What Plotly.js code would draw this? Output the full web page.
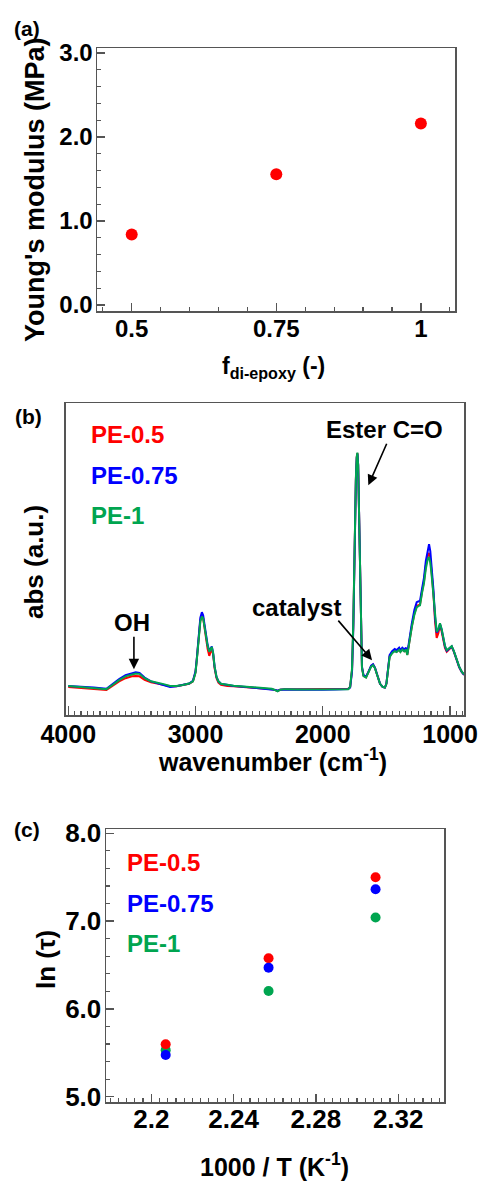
<!DOCTYPE html>
<html><head><meta charset="utf-8">
<script src="https://cdn.plot.ly/plotly-3.0.1.min.js"></script>
<style>html,body{margin:0;padding:0;background:#fff}</style>
</head><body><div id="chart" style="width:479px;height:1181px"></div>
<script>
// ---------- data ----------
const fracDiEpoxy = [0.5, 0.75, 1];
const youngsModulus = [0.84, 1.556, 2.16];

const wavenumber = [4000,3900,3800,3700,3650,3600,3550,3500,3470,3440,
3400,3350,3300,3250,3200,3150,3100,3050,3020,3000,
2990,2975,2962,2950,2940,2930,2918,2905,2892,2880,
2872,2862,2850,2835,2820,2800,2750,2700,2600,2500,
2400,2370,2355,2335,2300,2200,2100,2000,1900,1850,
1800,1785,1770,1760,1750,1740,1733,1728,1722,1715,
1708,1700,1692,1680,1660,1640,1620,1605,1590,1570,
1550,1530,1512,1500,1490,1475,1455,1435,1420,1400,
1390,1375,1360,1346,1336,1320,1300,1280,1262,1250,
1236,1220,1205,1190,1175,1165,1155,1145,1131,1118,
1105,1092,1079,1066,1053,1040,1026,1010,995,987,
970,948,928,908,890];

const absPE1 = [0.093,0.090,0.087,0.083,0.097,0.112,0.124,0.131,0.133,0.132,
0.118,0.108,0.104,0.099,0.093,0.093,0.096,0.101,0.108,0.135,
0.175,0.255,0.300,0.316,0.310,0.285,0.250,0.222,0.203,0.210,
0.218,0.200,0.155,0.122,0.108,0.100,0.096,0.094,0.091,0.087,
0.084,0.079,0.076,0.081,0.083,0.082,0.082,0.082,0.082,0.083,
0.083,0.090,0.150,0.300,0.560,0.760,0.830,0.842,0.800,0.620,
0.420,0.250,0.150,0.125,0.120,0.138,0.155,0.160,0.150,0.125,
0.100,0.090,0.088,0.100,0.140,0.185,0.198,0.205,0.202,0.209,
0.202,0.210,0.204,0.210,0.192,0.238,0.283,0.322,0.345,0.349,
0.352,0.392,0.422,0.470,0.500,0.507,0.488,0.450,0.390,0.310,
0.267,0.275,0.294,0.275,0.250,0.222,0.208,0.213,0.220,0.221,
0.205,0.176,0.155,0.139,0.130];

const absPE075 = [0.093,0.091,0.088,0.084,0.100,0.115,0.128,0.135,0.137,0.135,
0.120,0.108,0.102,0.096,0.090,0.092,0.096,0.101,0.110,0.140,
0.180,0.265,0.312,0.330,0.320,0.292,0.255,0.225,0.205,0.212,
0.220,0.200,0.155,0.122,0.108,0.100,0.096,0.093,0.090,0.086,
0.083,0.080,0.078,0.081,0.082,0.081,0.081,0.081,0.082,0.082,
0.083,0.088,0.140,0.280,0.540,0.750,0.825,0.838,0.805,0.640,
0.440,0.262,0.155,0.128,0.123,0.140,0.158,0.163,0.152,0.126,
0.100,0.090,0.088,0.101,0.145,0.192,0.205,0.212,0.208,0.216,
0.208,0.216,0.210,0.216,0.198,0.248,0.295,0.338,0.362,0.364,
0.366,0.405,0.440,0.495,0.535,0.548,0.525,0.478,0.405,0.315,
0.265,0.272,0.292,0.274,0.248,0.220,0.206,0.212,0.219,0.220,
0.204,0.175,0.154,0.138,0.129];

const absPE05 = [0.090,0.087,0.084,0.080,0.094,0.108,0.118,0.124,0.125,0.124,
0.113,0.105,0.101,0.097,0.092,0.092,0.095,0.100,0.108,0.137,
0.178,0.258,0.304,0.320,0.312,0.283,0.245,0.212,0.190,0.200,
0.212,0.196,0.150,0.118,0.104,0.097,0.093,0.092,0.090,0.086,
0.083,0.079,0.077,0.081,0.083,0.083,0.083,0.083,0.084,0.084,
0.084,0.090,0.145,0.290,0.550,0.755,0.828,0.840,0.802,0.630,
0.430,0.255,0.152,0.126,0.121,0.139,0.157,0.162,0.151,0.125,
0.100,0.090,0.088,0.100,0.142,0.188,0.200,0.206,0.203,0.210,
0.203,0.211,0.205,0.211,0.193,0.240,0.285,0.326,0.350,0.352,
0.355,0.396,0.428,0.480,0.512,0.520,0.500,0.458,0.392,0.300,
0.247,0.262,0.290,0.268,0.242,0.215,0.203,0.209,0.217,0.219,
0.203,0.174,0.153,0.138,0.129];

const invT = [2.207, 2.257, 2.309];
const lnTauPE05 = [5.597, 6.576, 7.499];
const lnTauPE075 = [5.475, 6.470, 7.362];
const lnTauPE1 = [5.530, 6.204, 7.040];

const seriesNames = ['PE-0.5', 'PE-0.75', 'PE-1'];
const tickA_x = [0.5, 0.75, 1];
const tickA_xText = ['0.5', '0.75', '1'];
const tickB_x = [4000, 3000, 2000, 1000];
const tickC_x = [2.2, 2.24, 2.28, 2.32];
const tickC_xText = ['2.2', '2.24', '2.28', '2.32'];

// ---------- styling ----------
const W = 479, H = 1181;
const RED = '#ff0000', BLUE = '#0000ff', GREEN = '#00a550';
const FONT = 'Arial, "Liberation Sans", sans-serif';
const px = v => v / W;
const py = v => 1 - v / H;
const bold = (size, color) => ({family: FONT, size: size, color: color || '#000', weight: 'bold'});

function frame(extra) {
  return Object.assign({
    showline: true, mirror: true, linecolor: '#555', linewidth: 1.5,
    showgrid: false, zeroline: false, ticks: 'inside', ticklen: 8,
    tickwidth: 1.3, tickcolor: '#555', fixedrange: true
  }, extra);
}

const traces = [
  {x: fracDiEpoxy, y: youngsModulus, xaxis: 'x', yaxis: 'y', type: 'scatter', mode: 'markers',
   marker: {color: RED, size: 12}, showlegend: false},
  {x: wavenumber, y: absPE05, xaxis: 'x2', yaxis: 'y2', type: 'scatter', mode: 'lines',
   line: {color: RED, width: 2}, name: seriesNames[0], showlegend: false},
  {x: wavenumber, y: absPE075, xaxis: 'x2', yaxis: 'y2', type: 'scatter', mode: 'lines',
   line: {color: BLUE, width: 2}, name: seriesNames[1], showlegend: false},
  {x: wavenumber, y: absPE1, xaxis: 'x2', yaxis: 'y2', type: 'scatter', mode: 'lines',
   line: {color: GREEN, width: 2}, name: seriesNames[2], showlegend: false},
  {x: invT, y: lnTauPE1, xaxis: 'x3', yaxis: 'y3', type: 'scatter', mode: 'markers',
   marker: {color: GREEN, size: 10}, showlegend: false},
  {x: invT, y: lnTauPE05, xaxis: 'x3', yaxis: 'y3', type: 'scatter', mode: 'markers',
   marker: {color: RED, size: 10}, showlegend: false},
  {x: invT, y: lnTauPE075, xaxis: 'x3', yaxis: 'y3', type: 'scatter', mode: 'markers',
   marker: {color: BLUE, size: 10}, showlegend: false}
];

function txt(text, x, y, font, extra) {
  return Object.assign({text: text, x: px(x), y: py(y), xref: 'paper', yref: 'paper',
    xanchor: 'center', yanchor: 'middle', showarrow: false, font: font}, extra || {});
}
function arrow(x, y, ax, ay) {
  return {text: '', x: x, y: y, xref: 'x2', yref: 'y2', ax: ax, ay: ay, showarrow: true,
    arrowhead: 2, arrowsize: 1.3, arrowwidth: 1.6, arrowcolor: '#000'};
}

const annotations = [
  txt('(a)', 27, 28, bold(21)),
  txt('(b)', 28, 417, bold(21)),
  txt('(c)', 27, 829, bold(21)),
  txt("Young's modulus (MPa)", 35, 190, bold(27), {textangle: -90}),
  txt('f<sub>di-epoxy</sub> (-)', 273, 367, bold(23)),
  txt('abs (a.u.)', 34, 562, bold(26), {textangle: -90}),
  txt('wavenumber (cm<sup>-1</sup>)', 272, 760, bold(25)),
  txt('ln (τ)', 46, 960, bold(26), {textangle: -90}),
  txt('1000 / T (K<sup>-1</sup>)', 274, 1165, bold(25)),
  txt(seriesNames[0], 89, 435, bold(24, RED), {xanchor: 'left'}),
  txt(seriesNames[1], 89, 475, bold(24, BLUE), {xanchor: 'left'}),
  txt(seriesNames[2], 89, 515, bold(24, GREEN), {xanchor: 'left'}),
  txt(seriesNames[0], 125, 862, bold(24, RED), {xanchor: 'left'}),
  txt(seriesNames[1], 125, 903, bold(24, BLUE), {xanchor: 'left'}),
  txt(seriesNames[2], 125, 943, bold(24, GREEN), {xanchor: 'left'}),
  txt('Ester C=O', 384, 430, bold(24)),
  txt('catalyst', 296, 608, bold(24)),
  txt('OH', 132, 622, bold(24)),
  arrow(1642, 0.737, 19, -43),
  arrow(1613, 0.176, -35, -41),
  arrow(3484, 0.147, 0, -34)
];

const layout = {
  width: W, height: H, margin: {l: 0, r: 0, t: 0, b: 0},
  paper_bgcolor: '#fff', plot_bgcolor: '#fff', showlegend: false,
  font: {family: FONT, color: '#000'},
  xaxis: frame({domain: [px(97), px(455)], range: [0.44, 1.059], anchor: 'y',
    tickvals: tickA_x, ticktext: tickA_xText, tickfont: bold(24), ticklabelstandoff: -4,
    minor: {dtick: 0.05, tick0: 0.5, ticks: 'inside', ticklen: 4, tickcolor: '#555', tickwidth: 1.2}}),
  yaxis: frame({domain: [py(311), py(48)], range: [-0.071, 3.06], anchor: 'x',
    dtick: 1, tick0: 0, tickformat: '.1f', tickfont: bold(24), ticklabelstandoff: -2,
    minor: {dtick: 0.2, tick0: 0, ticks: 'inside', ticklen: 4, tickcolor: '#555', tickwidth: 1.2}}),
  xaxis2: frame({domain: [px(65.7), px(464.3)], range: [4020, 888], anchor: 'y2',
    tickvals: tickB_x, tickfont: bold(25), ticklabelstandoff: -4, ticklen: 9,
    minor: {dtick: 50, tick0: 0, ticks: 'inside', ticklen: 4, tickcolor: '#555', tickwidth: 1.2}}),
  yaxis2: frame({domain: [py(715), py(403.3)], range: [0, 1], anchor: 'x2',
    ticks: '', showticklabels: false}),
  xaxis3: frame({domain: [px(106), px(444.3)], range: [2.178, 2.3424], anchor: 'y3',
    tickvals: tickC_x, ticktext: tickC_xText, tickfont: bold(26), ticklabelstandoff: -7,
    minor: {dtick: 0.004, tick0: 2.2, ticks: 'inside', ticklen: 4, tickcolor: '#555', tickwidth: 1.2}}),
  yaxis3: frame({domain: [py(1102.3), py(829)], range: [4.936, 8.049], anchor: 'x3',
    dtick: 1, tick0: 5, tickformat: '.1f', tickfont: bold(26), ticklabelstandoff: -2,
    minor: {dtick: 0.2, tick0: 5, ticks: 'inside', ticklen: 4, tickcolor: '#555', tickwidth: 1.2}}),
  annotations: annotations
};

Plotly.newPlot('chart', traces, layout, {displayModeBar: false, staticPlot: true});
</script></body></html>
